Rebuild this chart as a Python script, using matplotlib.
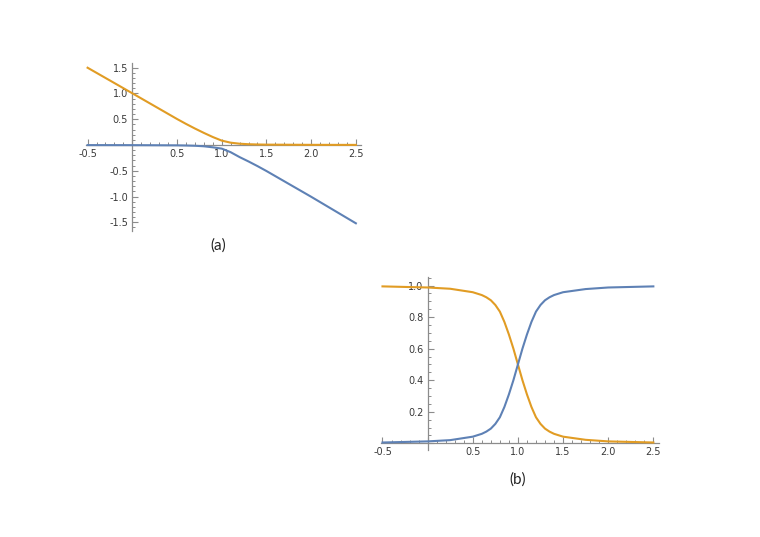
import matplotlib

matplotlib.use("Agg")
import matplotlib.pyplot as plt
from matplotlib.ticker import MultipleLocator, FuncFormatter

# Panel (a): two soft ramps
x_orange_a = [-0.5, 0.0, 0.5, 0.6, 0.7, 0.8, 0.9, 1.0, 1.1, 1.2, 1.3, 1.4, 1.5, 2.0, 2.5]
orange_a = [1.50, 1.004, 0.505, 0.41, 0.32, 0.235, 0.155, 0.085, 0.045, 0.025,
            0.015, 0.01, 0.007, 0.003, 0.002]
x_blue_a = [-0.5, 0.0, 0.5, 0.6, 0.7, 0.8, 0.9, 1.0, 1.1, 1.2, 1.3, 1.4, 1.5, 2.0, 2.5]
blue_a = [-0.002, -0.003, -0.007, -0.01, -0.015, -0.025, -0.045, -0.07, -0.14,
          -0.235, -0.32, -0.41, -0.505, -1.005, -1.52]

# Panel (b): two sigmoids crossing at x = 1
x_b = [-0.5, 0.0, 0.25, 0.5, 0.6, 0.65, 0.7, 0.75, 0.8, 0.85, 0.9, 0.95, 1.0,
       1.05, 1.1, 1.15, 1.2, 1.25, 1.3, 1.35, 1.4, 1.5, 1.75, 2.0, 2.5]
blue_b = [0.005, 0.012, 0.02, 0.042, 0.06, 0.074, 0.093, 0.123, 0.165, 0.23,
          0.31, 0.40, 0.50, 0.60, 0.69, 0.77, 0.835, 0.877, 0.907, 0.926,
          0.94, 0.958, 0.978, 0.988, 0.995]
orange_b = [0.995, 0.988, 0.98, 0.958, 0.94, 0.926, 0.907, 0.877, 0.835, 0.77,
            0.69, 0.60, 0.50, 0.40, 0.31, 0.23, 0.165, 0.123, 0.093, 0.074,
            0.06, 0.042, 0.022, 0.012, 0.005]

BLUE = "#5E81B5"
ORANGE = "#E19C24"
AXIS = "#8c8c8c"
LABEL = "#3a3a3a"


def fmt(v, pos):
    if abs(v) < 1e-9:
        return ""
    return f"{v:.1f}"


def style(ax, xlim, ylim, ymaj, ymin):
    ax.set_xlim(*xlim)
    ax.set_ylim(*ylim)
    for s in ("top", "right"):
        ax.spines[s].set_visible(False)
    for s in ("left", "bottom"):
        ax.spines[s].set_position(("data", 0))
        ax.spines[s].set_color(AXIS)
        ax.spines[s].set_linewidth(0.9)
    ax.xaxis.set_major_locator(MultipleLocator(0.5))
    ax.xaxis.set_minor_locator(MultipleLocator(0.1))
    ax.yaxis.set_major_locator(MultipleLocator(ymaj))
    ax.yaxis.set_minor_locator(MultipleLocator(ymin))
    ax.xaxis.set_major_formatter(FuncFormatter(fmt))
    ax.yaxis.set_major_formatter(FuncFormatter(fmt))
    ax.tick_params(which="major", direction="in", length=4, width=0.8,
                   color=AXIS, labelsize=7, labelcolor=LABEL, pad=3)
    ax.tick_params(which="minor", direction="in", length=2.3, width=0.7, color=AXIS)
    ax.patch.set_visible(False)


fig = plt.figure(figsize=(7.6, 5.37), dpi=100, facecolor="white")

# (a)
ax1 = fig.add_axes([0.1129, 0.5698, 0.3624, 0.3127])
ax1.plot(x_orange_a, orange_a, color=ORANGE, lw=1.5, zorder=3)
ax1.plot(x_blue_a, blue_a, color=BLUE, lw=1.5, zorder=3)
style(ax1, (-0.52, 2.56), (-1.67, 1.59), 0.5, 0.1)

# (b)
ax2 = fig.add_axes([0.5009, 0.1613, 0.3659, 0.3236])
ax2.plot(x_b, orange_b, color=ORANGE, lw=1.5, zorder=3)
ax2.plot(x_b, blue_b, color=BLUE, lw=1.5, zorder=3)
style(ax2, (-0.52, 2.56), (-0.045, 1.057), 0.2, 0.05)

fig.text(218 / 760, 1 - 246 / 537, "(a)", ha="center", va="center",
         fontsize=11, family="Lato", color="#222222")
fig.text(518 / 760, 1 - 480 / 537, "(b)", ha="center", va="center",
         fontsize=11, family="Lato", color="#222222")

fig.savefig("out.png", dpi=100)
